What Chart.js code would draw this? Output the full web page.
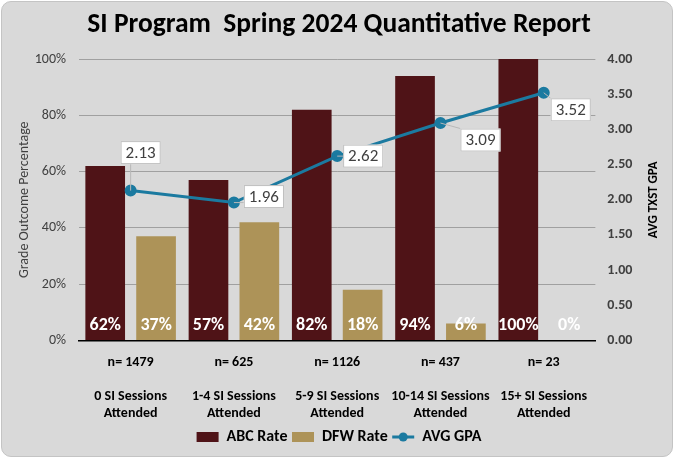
<!DOCTYPE html>
<html>
<head>
<meta charset="utf-8">
<script src="https://cdn.jsdelivr.net/npm/chart.js@4/dist/chart.umd.min.js"></script>
<style>
    html, body { margin: 0; padding: 0; background: #ffffff; }
    #wrap { position: relative; width: 674px; height: 458px; }
    #bg {
        position: absolute; left: 1px; top: 1px; width: 670px; height: 454px;
        background: #d9d9d9; border: 1px solid #c4c4c4; border-radius: 10px;
    }
    #chart { position: absolute; left: 0; top: 0; }
</style>
</head>
<body>
<div id="wrap">
    <div id="bg"></div>
    <canvas id="chart" width="674" height="458"></canvas>
</div>
<script>
'use strict';

// Chart values
const groupCounts = ['1479', '625', '1126', '437', '23'];
const groupNames  = ['0 SI Sessions', '1-4 SI Sessions', '5-9 SI Sessions', '10-14 SI Sessions', '15+ SI Sessions'];
const abcRate     = [62, 57, 82, 94, 100];
const dfwRate     = [37, 42, 18, 6, 0];
const avgGpa      = [2.13, 1.96, 2.62, 3.09, 3.52];

const FONT = 'Carlito, Calibri, "Liberation Sans Narrow", "Open Sans", sans-serif';
const COLORS = {
    abc:  '#4f1317',
    dfw:  '#ad9358',
    gpa:  '#1b7aa0',
    grid: '#a0a0a0',
    text: '#404040',
};
const RIGHT_TITLE = 'AVG TXST GPA';

// Where each GPA callout box sits relative to its point (px)
const GPA_LABEL_OFFSETS = [[10, -38], [30, -6], [26, 0], [40, 17], [27, 17]];

const labels = groupCounts.map((n, i) => ['n= ' + n, '', groupNames[i], 'Attended']);

// White percentage labels at the foot of each bar
const barLabels = {
    id: 'barLabels',
    afterDatasetsDraw(chart) {
        const { ctx } = chart;
        const base = chart.scales.y.getPixelForValue(0);
        ctx.save();
        ctx.font = `bold 18px ${FONT}`;
        ctx.fillStyle = '#ffffff';
        ctx.textAlign = 'center';
        ctx.textBaseline = 'middle';
        [0, 1].forEach(di => {
            const ds = chart.data.datasets[di];
            chart.getDatasetMeta(di).data.forEach((el, i) => {
                ctx.fillText(ds.data[i] + '%', el.x, base - 15);
            });
        });
        ctx.restore();
    }
};

// Boxed GPA value callouts with a thin leader to the point
const gpaLabels = {
    id: 'gpaLabels',
    afterDatasetsDraw(chart) {
        const { ctx } = chart;
        const ds = chart.data.datasets[2];
        ctx.save();
        ctx.font = `17px ${FONT}`;
        ctx.textAlign = 'center';
        ctx.textBaseline = 'middle';
        chart.getDatasetMeta(2).data.forEach((pt, i) => {
            const text = ds.data[i].toFixed(2);
            const [dx, dy] = GPA_LABEL_OFFSETS[i];
            const cx = pt.x + dx, cy = pt.y + dy;
            const w = ctx.measureText(text).width + 10, h = 23;
            const bx = cx - w / 2, by = cy - h / 2;
            const ex = Math.max(bx, Math.min(pt.x, bx + w));
            const ey = Math.max(by, Math.min(pt.y, by + h));
            ctx.strokeStyle = '#b8b8b8';
            ctx.lineWidth = 1;
            ctx.beginPath();
            ctx.moveTo(ex, ey);
            ctx.lineTo(pt.x, pt.y);
            ctx.stroke();
            ctx.fillStyle = '#ffffff';
            ctx.fillRect(bx, by, w, h);
            ctx.strokeStyle = '#bfbfbf';
            ctx.strokeRect(bx + 0.5, by + 0.5, w - 1, h - 1);
            ctx.fillStyle = COLORS.text;
            ctx.fillText(text, cx, cy + 1);
        });
        ctx.restore();
    }
};

// Marker dot on the legend's line entry, and the right axis title read bottom-up
const extras = {
    id: 'extras',
    afterDraw(chart) {
        const { ctx } = chart;
        const legend = chart.legend;
        if (legend && legend.legendHitBoxes) {
            const box = legend.legendHitBoxes[2];
            const boxW = chart.options.plugins.legend.labels.pointStyleWidth;
            ctx.save();
            ctx.fillStyle = COLORS.gpa;
            ctx.beginPath();
            ctx.arc(box.left + boxW / 2, box.top + box.height / 2, 4.5, 0, Math.PI * 2);
            ctx.fill();
            ctx.restore();
        }
        const y1 = chart.scales.y1;
        ctx.save();
        ctx.translate(y1.right - 10, (chart.chartArea.top + chart.chartArea.bottom) / 2);
        ctx.rotate(-Math.PI / 2);
        ctx.font = `bold 13px ${FONT}`;
        ctx.fillStyle = '#000000';
        ctx.textAlign = 'center';
        ctx.textBaseline = 'middle';
        ctx.fillText(RIGHT_TITLE, 0, 0);
        ctx.restore();
    }
};

Chart.defaults.font.family = FONT;
Chart.defaults.color = COLORS.text;
const defaultLegendLabels = Chart.defaults.plugins.legend.labels.generateLabels;

new Chart(document.getElementById('chart'), {
    data: {
        labels,
        datasets: [
            {
                type: 'bar', label: 'ABC Rate', data: abcRate,
                backgroundColor: COLORS.abc, yAxisID: 'y', order: 2,
                categoryPercentage: 0.985, barPercentage: 0.78,
            },
            {
                type: 'bar', label: 'DFW Rate', data: dfwRate,
                backgroundColor: COLORS.dfw, yAxisID: 'y', order: 2,
                categoryPercentage: 0.985, barPercentage: 0.78,
            },
            {
                type: 'line', label: 'AVG GPA', data: avgGpa,
                borderColor: COLORS.gpa, backgroundColor: COLORS.gpa,
                borderWidth: 3, pointRadius: 4.5, pointHoverRadius: 4.5,
                yAxisID: 'y1', order: 1, tension: 0,
            },
        ],
    },
    options: {
        responsive: false,
        animation: false,
        layout: { padding: { top: 4, left: 14, right: 10, bottom: 3 } },
        plugins: {
            title: {
                display: true,
                text: 'SI Program  Spring 2024 Quantitative Report',
                color: '#000000',
                font: { size: 27.5, weight: 'bold' },
                padding: { top: 5, bottom: 17 },
            },
            legend: {
                position: 'bottom',
                labels: {
                    usePointStyle: true,
                    pointStyleWidth: 22,
                    boxHeight: 10,
                    padding: 4.5,
                    color: '#000000',
                    font: { size: 16, weight: 'bold' },
                    sort: (a, b) => a.datasetIndex - b.datasetIndex,
                    generateLabels(chart) {
                        return defaultLegendLabels(chart).map(item => {
                            const isLine = item.datasetIndex === 2;
                            item.pointStyle = isLine ? 'line' : 'rect';
                            item.lineWidth = isLine ? 3 : 0;
                            return item;
                        });
                    },
                },
            },
            tooltip: { enabled: false },
        },
        scales: {
            x: {
                grid: { display: false },
                border: { display: true, color: '#000000', width: 1.5 },
                ticks: {
                    color: '#000000', font: { size: 14, weight: 'bold', lineHeight: 1.2 },
                    maxRotation: 0, autoSkip: false, padding: 6,
                },
                afterFit: scale => { scale.height = 84; },
            },
            y: {
                position: 'left', min: 0, max: 100,
                ticks: { stepSize: 20, callback: v => v + '%', font: { size: 14 }, padding: 13 },
                grid: { color: COLORS.grid, drawTicks: false },
                border: { display: false },
                title: { display: true, text: 'Grade Outcome Percentage', font: { size: 14 }, padding: 2.5 },
                afterFit: scale => { scale.width = 65; },
            },
            y1: {
                position: 'right', min: 0, max: 4,
                ticks: { stepSize: 0.5, callback: v => v.toFixed(2), font: { size: 14, weight: 'bold' }, padding: 12 },
                grid: { drawOnChartArea: false, drawTicks: false },
                border: { display: false },
                title: { display: true, text: RIGHT_TITLE, font: { size: 13, weight: 'bold' }, color: 'rgba(0,0,0,0)', padding: 2 },
            },
        },
    },
    plugins: [barLabels, gpaLabels, extras],
});
</script>
</body>
</html>
